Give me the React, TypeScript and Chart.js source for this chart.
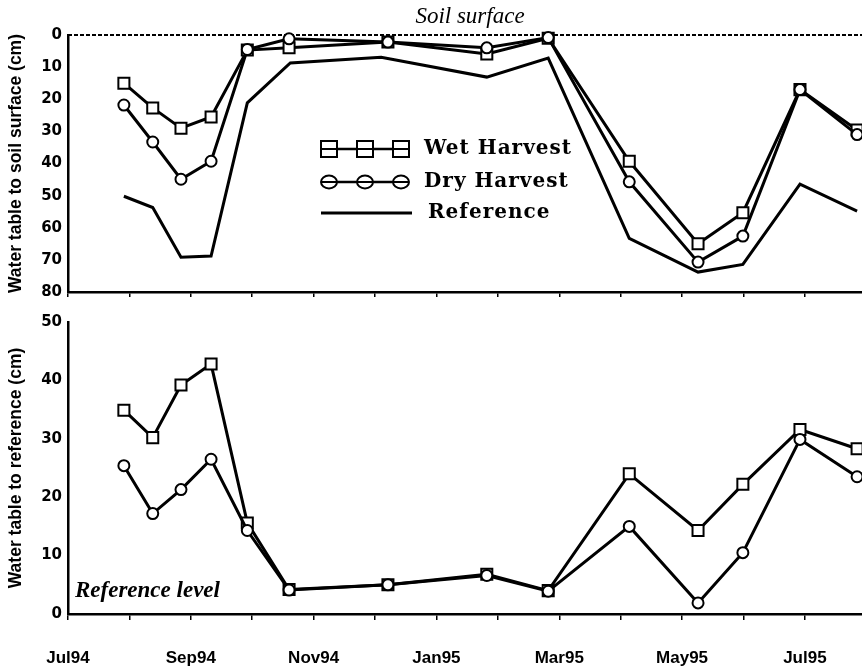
import React, { useEffect, useRef } from 'react';
import { Chart, registerables } from 'chart.js';

Chart.register(...registerables);

// Month index: 0 = Jul94, 1 = Aug94, ...
const monthLabels = ['Jul94', 'Aug94', 'Sep94', 'Oct94', 'Nov94', 'Dec94', 'Jan95', 'Feb95', 'Mar95', 'Apr95', 'May95', 'Jun95', 'Jul95'];
const sampleMonths = [0.91, 1.38, 1.84, 2.33, 2.92, 3.6, 5.21, 6.82, 7.82, 9.14, 10.26, 10.99, 11.92, 12.85];
const refMonths = [0.91, 1.38, 1.84, 2.33, 2.92, 3.62, 5.1, 6.82, 7.82, 9.14, 10.26, 10.99, 11.92, 12.85];

// Water table depth below soil surface (cm)
const wetSurface = [15, 22.7, 29, 25.5, 4.7, 4.0, 2.2, 5.9, 1.0, 39.3, 65, 55.3, 17, 29.6];
const drySurface = [21.8, 33.3, 44.9, 39.3, 4.5, 1.2, 2.2, 4.0, 0.8, 45.7, 70.7, 62.6, 17, 31];
const refSurface = [50.2, 53.7, 69.2, 68.8, 21.1, 8.7, 6.9, 13.1, 7.2, 63.3, 73.8, 71.4, 46.4, 54.8];

// Water table above reference level (cm)
const wetReference = [34.9, 30.2, 39.2, 42.8, 15.6, 4.2, 5.0, 6.8, 4.0, 24, 14.3, 22.2, 31.6, 28.3];
const dryReference = [25.4, 17.2, 21.3, 26.5, 14.3, 4.1, 5.0, 6.6, 3.9, 15, 1.9, 10.5, 29.9, 23.5];

const X_MAX = 12.93;
const BLACK = '#000';

const toPoints = (xs: number[], ys: number[]) => ys.map((y, i) => ({ x: xs[i], y }));

const xTickLabel = (v: number | string) => {
  const n = Number(v);
  return Number.isInteger(n) && n % 2 === 0 ? monthLabels[n] ?? '' : '';
};

const lineStyle = (style: string, radius: number) => ({
  borderColor: BLACK,
  borderWidth: 3,
  pointStyle: style,
  pointRadius: radius,
  pointBorderWidth: 2,
  pointBorderColor: BLACK,
  pointBackgroundColor: '#fff',
  tension: 0,
  fill: false,
  clip: 10,
});

export default function App() {
  const topRef = useRef<HTMLCanvasElement>(null);
  const botRef = useRef<HTMLCanvasElement>(null);

  useEffect(() => {
    const topPlugin = {
      id: 'topDecor',
      beforeDatasetsDraw(chart: any) {
        const { ctx, chartArea } = chart;
        const y0 = chart.scales.y.getPixelForValue(0);
        ctx.save();
        ctx.strokeStyle = BLACK;
        ctx.lineWidth = 2;
        ctx.setLineDash([4, 2]);
        ctx.beginPath();
        ctx.moveTo(chartArea.left, y0);
        ctx.lineTo(chartArea.right, y0);
        ctx.stroke();
        ctx.restore();
      },
      afterDraw(chart: any) {
        const { ctx } = chart;
        ctx.save();
        ctx.fillStyle = BLACK;
        ctx.font = 'italic 23px "Liberation Serif", "DejaVu Serif", serif';
        ctx.textAlign = 'center';
        ctx.textBaseline = 'middle';
        ctx.fillText('Soil surface', 470, 17);

        // legend
        const rows = [
          { y: 149, label: 'Wet Harvest', marker: 'rect' },
          { y: 182, label: 'Dry Harvest', marker: 'circle' },
          { y: 213, label: 'Reference', marker: 'none' },
        ];
        const mx = [329, 365, 401];
        rows.forEach((r) => {
          ctx.strokeStyle = BLACK;
          ctx.lineWidth = r.marker === 'none' ? 3 : 2.5;
          ctx.setLineDash([]);
          ctx.beginPath();
          ctx.moveTo(321, r.y);
          ctx.lineTo(r.marker === 'none' ? 412 : 409, r.y);
          ctx.stroke();
          ctx.lineWidth = 2;
          mx.forEach((x) => {
            if (r.marker === 'rect') {
              ctx.fillStyle = '#fff';
              ctx.fillRect(x - 8, r.y - 8, 16, 16);
              ctx.strokeRect(x - 8, r.y - 8, 16, 16);
              ctx.beginPath();
              ctx.moveTo(x - 8, r.y);
              ctx.lineTo(x + 8, r.y);
              ctx.stroke();
            } else if (r.marker === 'circle') {
              ctx.fillStyle = '#fff';
              ctx.beginPath();
              ctx.ellipse(x, r.y, 8, 6.5, 0, 0, Math.PI * 2);
              ctx.fill();
              ctx.stroke();
              ctx.beginPath();
              ctx.moveTo(x - 8, r.y);
              ctx.lineTo(x + 8, r.y);
              ctx.stroke();
            }
          });
          ctx.fillStyle = BLACK;
          ctx.font = 'bold 20px "DejaVu Serif", serif';
          try {
            (ctx as any).letterSpacing = '1px';
          } catch (e) {}
          ctx.textAlign = 'left';
          ctx.textBaseline = 'middle';
          ctx.fillText(r.label, r.marker === 'none' ? 428 : 424, r.y);
          try {
            (ctx as any).letterSpacing = '0px';
          } catch (e) {}
        });
        ctx.restore();
      },
    };

    const botPlugin = {
      id: 'botDecor',
      afterDraw(chart: any) {
        const { ctx } = chart;
        ctx.save();
        ctx.fillStyle = BLACK;
        ctx.font = 'italic bold 23px "Liberation Serif", "DejaVu Serif", serif';
        ctx.textAlign = 'left';
        ctx.textBaseline = 'middle';
        ctx.fillText('Reference level', 75, 291);
        ctx.restore();
      },
    };

    const yTickFont = { family: '"DejaVu Sans", sans-serif', weight: 'bold' as const, size: 15 };
    const yTitleFont = { family: '"Liberation Sans", Arial, sans-serif', weight: 'bold' as const, size: 17.5 };

    const commonX = (showLabels: boolean, height: number) => ({
      type: 'linear' as const,
      min: 0,
      max: X_MAX,
      afterFit: (s: any) => {
        s.height = height;
      },
      border: { display: true, color: BLACK, width: 2.5 },
      grid: {
        display: true,
        drawOnChartArea: false,
        drawTicks: true,
        tickLength: showLabels ? 6 : 5,
        color: BLACK,
        lineWidth: 1.5,
      },
      ticks: {
        display: showLabels,
        stepSize: 1,
        autoSkip: false,
        includeBounds: false,
        maxRotation: 0,
        padding: 28,
        color: BLACK,
        font: { family: '"Liberation Sans", Arial, sans-serif', weight: 'bold' as const, size: 17 },
        callback: xTickLabel,
      },
    });

    const top = new Chart(topRef.current!, {
      type: 'line',
      data: {
        datasets: [
          { label: 'Reference', data: toPoints(refMonths, refSurface), ...lineStyle('circle', 0) },
          { label: 'Dry Harvest', data: toPoints(sampleMonths, drySurface), ...lineStyle('circle', 5.5) },
          { label: 'Wet Harvest', data: toPoints(sampleMonths, wetSurface), ...lineStyle('rect', 7.8) },
        ],
      },
      options: {
        animation: false,
        responsive: false,
        devicePixelRatio: 1,
        events: [],
        layout: { autoPadding: false, padding: { top: 35, left: 0, right: 0, bottom: 0 } },
        plugins: { legend: { display: false }, tooltip: { enabled: false }, title: { display: false } },
        scales: {
          x: commonX(false, 20),
          y: {
            type: 'linear',
            reverse: true,
            min: 0,
            max: 80,
            afterFit: (s: any) => {
              s.width = 68;
            },
            border: { display: true, color: BLACK, width: 2.5 },
            grid: { display: false, drawTicks: false },
            ticks: { stepSize: 10, padding: 6, color: BLACK, font: yTickFont },
            title: {
              display: true,
              text: 'Water table to soil surface (cm)',
              color: BLACK,
              font: yTitleFont,
              padding: { top: 6, bottom: 0 },
            },
          },
        },
      },
      plugins: [topPlugin],
    });

    const bot = new Chart(botRef.current!, {
      type: 'line',
      data: {
        datasets: [
          { label: 'Dry Harvest', data: toPoints(sampleMonths, dryReference), ...lineStyle('circle', 5.5) },
          { label: 'Wet Harvest', data: toPoints(sampleMonths, wetReference), ...lineStyle('rect', 7.8) },
        ],
      },
      options: {
        animation: false,
        responsive: false,
        devicePixelRatio: 1,
        events: [],
        layout: { autoPadding: false, padding: { top: 22, left: 0, right: 0, bottom: 0 } },
        plugins: { legend: { display: false }, tooltip: { enabled: false }, title: { display: false } },
        scales: {
          x: commonX(true, 53),
          y: {
            type: 'linear',
            min: 0,
            max: 50,
            afterFit: (s: any) => {
              s.width = 68;
            },
            border: { display: true, color: BLACK, width: 2.5 },
            grid: { display: false, drawTicks: false },
            ticks: { stepSize: 10, padding: 6, color: BLACK, font: yTickFont },
            title: {
              display: true,
              text: 'Water table to reference (cm)',
              color: BLACK,
              font: yTitleFont,
              padding: { top: 6, bottom: 0 },
            },
          },
        },
      },
      plugins: [botPlugin],
    });

    return () => {
      top.destroy();
      bot.destroy();
    };
  }, []);

  return (
    <div style={{ position: 'absolute', left: 0, top: 0, width: 862, height: 667, background: '#fff' }}>
      <canvas ref={topRef} width={862} height={312} style={{ position: 'absolute', left: 0, top: 0, width: 862, height: 312 }} />
      <canvas ref={botRef} width={862} height={367} style={{ position: 'absolute', left: 0, top: 300, width: 862, height: 367 }} />
    </div>
  );
}
